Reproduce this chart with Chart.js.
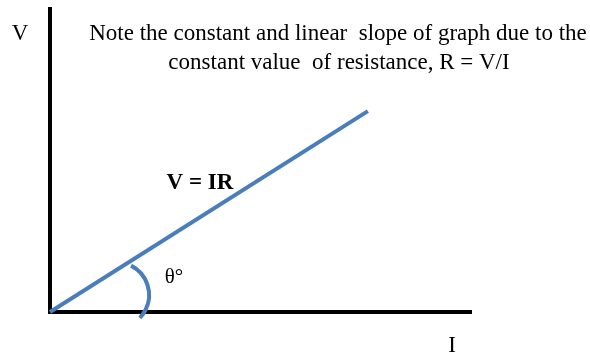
<!DOCTYPE html>
<html>
<head>
<meta charset="utf-8">
<script src="https://cdn.jsdelivr.net/npm/chart.js@4"></script>
<style>
  html, body { margin: 0; padding: 0; background: #fff; }
  #wrap { width: 590px; height: 355px; position: relative; }
</style>
</head>
<body>
<div id="wrap"><canvas id="ohmChart"></canvas></div>
<script>
// data (arbitrary units, axes run 0..100)
const currentValues = [0, 75.5];   // I
const voltageValues = [0, 66.3];   // V
const noteLines = [
  'Note the constant and linear  slope of graph due to the',
  'constant value  of resistance, R = V/I'
];
const angleMark = { x: 15.7, y: 5.6 };  // centre of the theta arc
const blue = '#4a7ebb';

// text + angle arc on top of the plot
const annotations = {
  id: 'annotations',
  afterDraw(chart) {
    const ctx = chart.ctx;
    const xs = chart.scales.x;
    const ys = chart.scales.y;
    ctx.save();

    // theta arc
    ctx.strokeStyle = blue;
    ctx.lineWidth = 4;
    ctx.beginPath();
    ctx.arc(xs.getPixelForValue(angleMark.x), ys.getPixelForValue(angleMark.y), 33,
      -63 * Math.PI / 180, 44 * Math.PI / 180);
    ctx.stroke();

    ctx.fillStyle = '#000';
    ctx.font = '23px "Liberation Serif", "Times New Roman", serif';
    ctx.textAlign = 'center';
    ctx.textBaseline = 'alphabetic';
    ctx.fillText(noteLines[0], 338, 40);
    ctx.fillText(noteLines[1], 339, 69);

    ctx.fillText('V', 20, 40);
    ctx.fillText('I', 452, 352);

    ctx.font = '21px "Liberation Serif", "Times New Roman", serif';
    ctx.fillText('θ°', 174, 283);

    ctx.font = 'bold 23px "Liberation Serif", "Times New Roman", serif';
    ctx.fillText('V = IR', 200, 189);
    ctx.restore();
  }
};

new Chart(document.getElementById('ohmChart'), {
  type: 'scatter',
  data: {
    datasets: [{
      data: currentValues.map((x, i) => ({ x: x, y: voltageValues[i] })),
      showLine: true,
      borderColor: blue,
      borderWidth: 4,
      pointRadius: 0,
      clip: false
    }]
  },
  options: {
    responsive: true,
    maintainAspectRatio: false,
    animation: false,
    layout: {
      padding: { left: 50, top: 9, right: 119, bottom: 43 }
    },
    scales: {
      x: {
        type: 'linear',
        min: 0,
        max: 100,
        ticks: { display: false },
        grid: { display: false, drawTicks: false },
        border: { display: true, color: '#000', width: 4 }
      },
      y: {
        type: 'linear',
        min: 0,
        max: 100,
        ticks: { display: false },
        grid: { display: false, drawTicks: false },
        border: { display: true, color: '#000', width: 4 }
      }
    },
    plugins: {
      legend: { display: false },
      tooltip: { enabled: false }
    }
  },
  plugins: [annotations]
});
</script>
</body>
</html>
